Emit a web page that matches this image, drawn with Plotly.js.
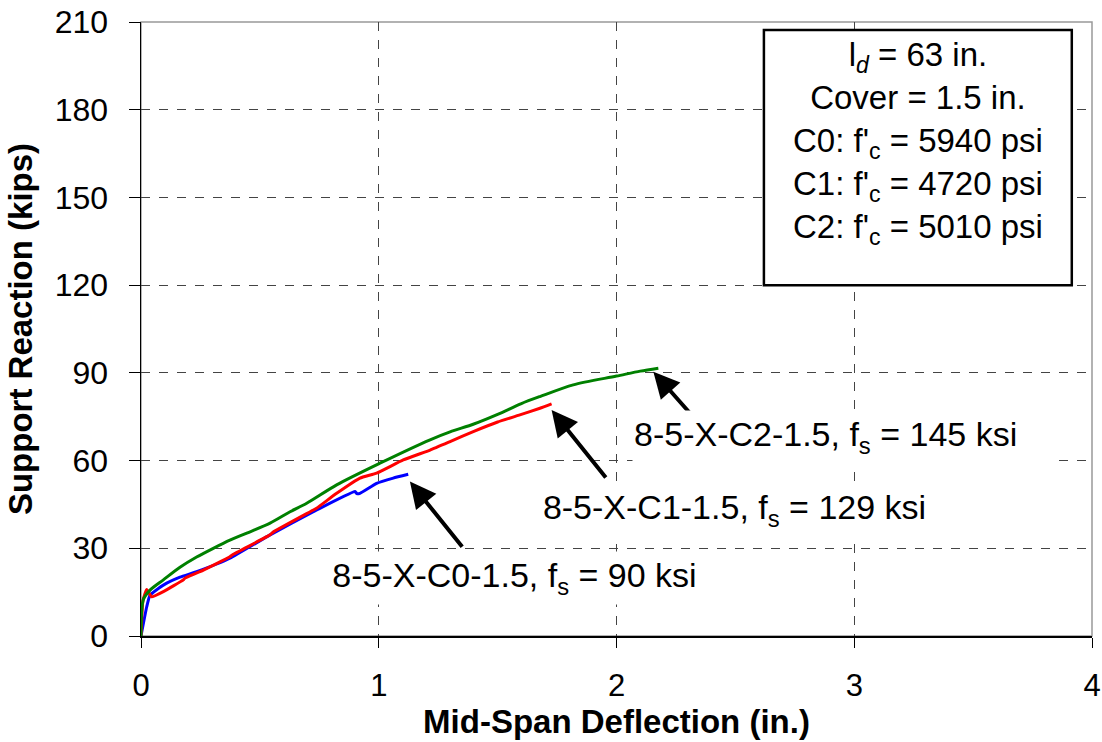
<!DOCTYPE html>
<html>
<head>
<meta charset="utf-8">
<script src="https://cdn.plot.ly/plotly-3.0.1.min.js"></script>
<style>html,body{margin:0;padding:0;background:#fff;}#chart{width:1102px;height:742px;}</style>
</head>
<body>
<div id="chart"></div>
<script>
// Series C0 (blue)
const c0X = [0, 0.024, 0.038, 0.094, 0.164, 0.234, 0.374, 0.543, 0.725, 0.9, 0.908, 0.921, 0.991, 1.061, 1.124];
const c0Y = [0, 10.0, 14.0, 17.4, 20.1, 22.0, 26.6, 34.6, 42.5, 49.4, 48.7, 48.8, 52.2, 54.0, 55.3];
// Series C1 (red)
const c1X = [0, 0.008, 0.024, 0.045, 0.094, 0.178, 0.185, 0.248, 0.374, 0.385, 0.543, 0.555, 0.725, 0.74, 0.823, 0.921, 0.991, 1.103, 1.216, 1.3, 1.4, 1.5, 1.6, 1.678, 1.727];
const c1Y = [0, 12.0, 15.9, 13.4, 15.2, 19.2, 19.8, 22.0, 27.1, 27.8, 34.6, 35.5, 43.1, 43.8, 48.8, 54.0, 55.7, 60.2, 63.6, 66.5, 70.0, 73.2, 75.8, 77.9, 79.4];
// Series C2 (green)
const c2X = [0, 0.01, 0.038, 0.094, 0.164, 0.234, 0.304, 0.374, 0.445, 0.543, 0.627, 0.697, 0.823, 1.005, 1.216, 1.3, 1.4, 1.5, 1.6, 1.678, 1.818, 2.0, 2.1, 2.176];
const c2Y = [0, 12.5, 15.7, 19.2, 23.5, 27.0, 30.0, 32.8, 35.2, 38.6, 42.5, 45.4, 51.7, 59.1, 67.1, 69.8, 72.5, 75.8, 79.5, 81.9, 85.9, 88.9, 90.6, 91.6];

const xTicks = [0, 1, 2, 3, 4];
const yTicks = [0, 30, 60, 90, 120, 150, 180, 210];

const seriesNames = ['8-5-X-C0-1.5', '8-5-X-C1-1.5', '8-5-X-C2-1.5'];
const seriesLabels = ['8-5-X-C0-1.5, f<sub>s</sub> = 90 ksi', '8-5-X-C1-1.5, f<sub>s</sub> = 129 ksi', '8-5-X-C2-1.5, f<sub>s</sub> = 145 ksi'];
const infoLines = ['l<sub><i>d</i></sub> = 63 in.', 'Cover = 1.5 in.', "C0: f'<sub>c</sub> = 5940 psi", "C1: f'<sub>c</sub> = 4720 psi", "C2: f'<sub>c</sub> = 5010 psi"];

const FONT = 'Liberation Sans, Arial, Helvetica, sans-serif';

const traces = [
  {x: c0X, y: c0Y, name: seriesNames[0], mode: 'lines', line: {color: '#0000ff', width: 3, shape: 'spline', smoothing: 0.4}},
  {x: c1X, y: c1Y, name: seriesNames[1], mode: 'lines', line: {color: '#ff0000', width: 3, shape: 'spline', smoothing: 0.4}},
  {x: c2X, y: c2Y, name: seriesNames[2], mode: 'lines', line: {color: '#008000', width: 3, shape: 'spline', smoothing: 0.8}}
];

function arrow(hx, hy, tx, ty) {
  return {x: hx, y: hy, ax: tx, ay: ty, xref: 'x', yref: 'y', axref: 'x', ayref: 'y',
    text: '', showarrow: true, arrowhead: 2, arrowsize: 1.3, arrowwidth: 4, arrowcolor: '#000'};
}
function label(txt, x, y, w, al) {
  return {x: x, y: y, xref: 'x', yref: 'y', text: txt, showarrow: false,
    font: {family: FONT, size: 34, color: '#000'}, bgcolor: '#fff', width: w, height: 50, align: al, valign: 'middle'};
}

const layout = {
  width: 1102, height: 742,
  margin: {l: 141, r: 10, t: 22, b: 106},
  paper_bgcolor: '#fff', plot_bgcolor: '#fff',
  showlegend: false,
  font: {family: FONT, size: 32, color: '#000'},
  xaxis: {
    range: [0, 4], tickvals: xTicks, ticktext: xTicks.map(String),
    showgrid: true, gridcolor: '#444', griddash: 'dash', gridwidth: 1,
    zeroline: false, showline: true, linecolor: '#000', linewidth: 1.5,
    ticks: 'outside', ticklen: 10, tickcolor: '#000', tickwidth: 1,
    tickfont: {family: FONT, size: 31}, ticklabelstandoff: 11,
    title: {text: '<b>Mid-Span Deflection (in.)</b>', font: {family: FONT, size: 33}, standoff: 8},
    automargin: false
  },
  yaxis: {
    range: [0, 210], tickvals: yTicks, ticktext: yTicks.map(String),
    showgrid: true, gridcolor: '#444', griddash: 'dash', gridwidth: 1,
    zeroline: false, showline: true, linecolor: '#000', linewidth: 1.5,
    ticks: 'outside', ticklen: 11, tickcolor: '#000', tickwidth: 1,
    tickfont: {family: FONT, size: 32}, ticklabelstandoff: 14,
    title: {text: '<b>Support Reaction (kips)</b>', font: {family: FONT, size: 33}, standoff: 12},
    automargin: false
  },
  shapes: [
    {type: 'rect', xref: 'paper', yref: 'paper', x0: 0, y0: 0, x1: 1, y1: 1, line: {color: '#999', width: 1.5}, layer: 'below'},
    {type: 'rect', xref: 'x', yref: 'y', x0: 2.62, x1: 3.915, y0: 120.0, y1: 207.3, line: {color: '#000', width: 2.5}, fillcolor: '#fff', layer: 'above'}
  ],
  annotations: [
    arrow(1.131, 52.8, 1.356, 30.0),
    arrow(1.727, 77.3, 1.96, 53.7),
    arrow(2.155, 90.4, 2.316, 75.6),
    label(seriesLabels[0], 1.573, 19.8, 375, 'center'),
    label(seriesLabels[1], 2.498, 43.1, 395, 'center'),
    label(seriesLabels[2], 2.957, 68.1, 420, 'left'),
    {x: 3.268, y: 168.5, xref: 'x', yref: 'y', text: infoLines.join('<br>'), showarrow: false,
     font: {family: FONT, size: 33, color: '#000'}, align: 'center', valign: 'middle'}
  ]
};

Plotly.newPlot('chart', traces, layout, {staticPlot: true, displayModeBar: false});
</script>
</body>
</html>
